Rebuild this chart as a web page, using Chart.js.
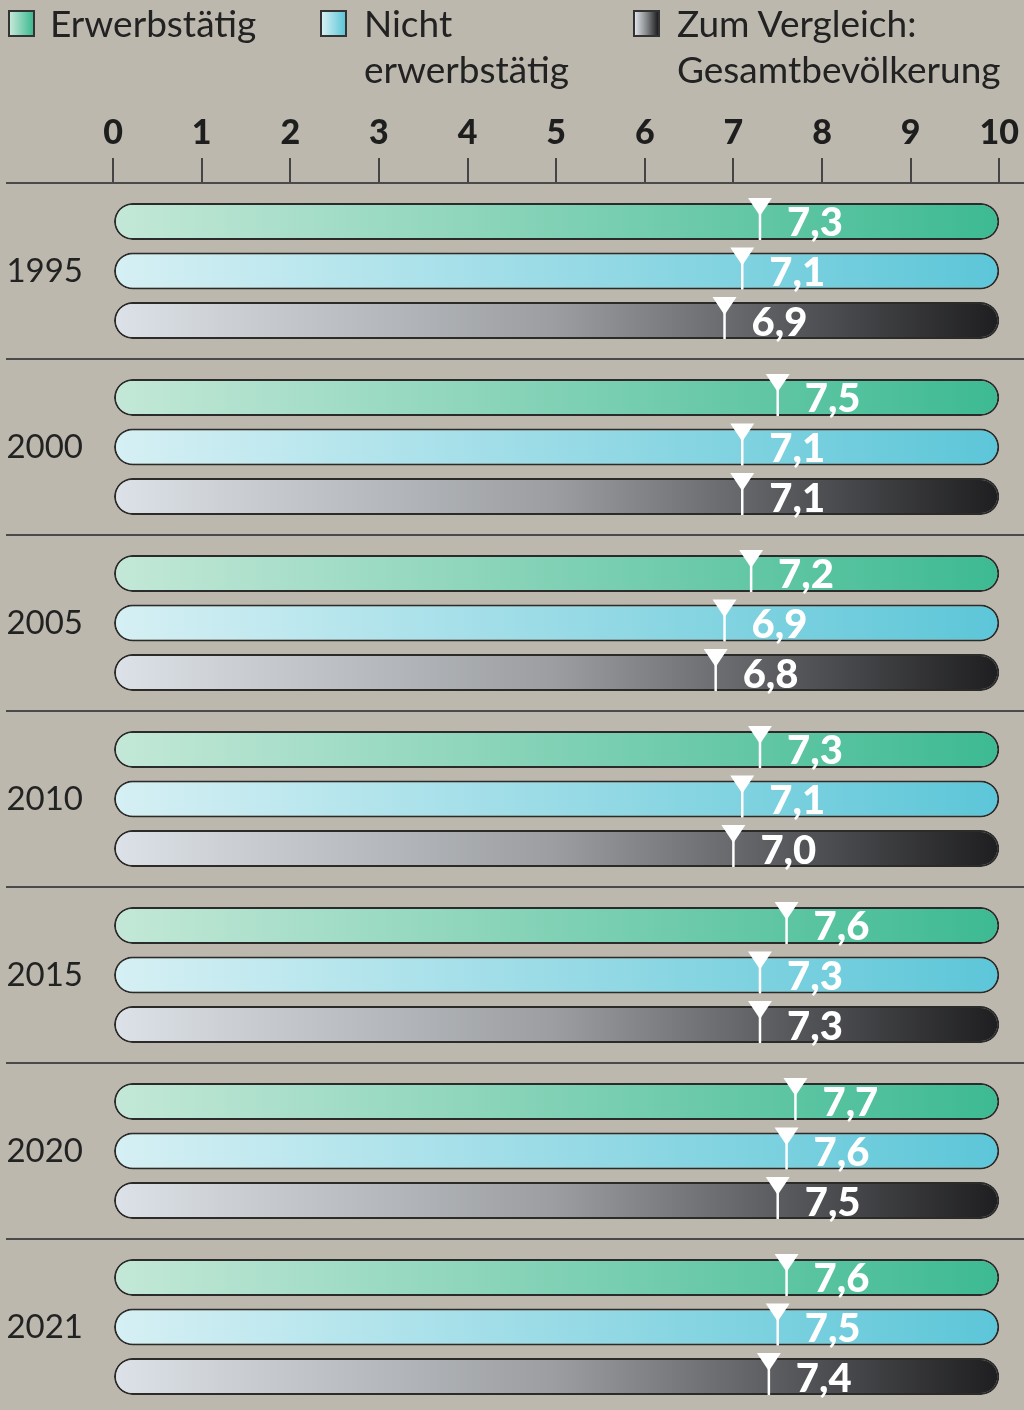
<!DOCTYPE html>
<html>
<head>
<meta charset="utf-8">
<script src="https://cdn.jsdelivr.net/npm/chart.js@4.4.0/dist/chart.umd.min.js"></script>
<style>
    html, body { margin: 0; padding: 0; background: #bcb8ae; overflow: hidden; }
    .wrap { position: relative; width: 1024px; height: 1415px; }
    #chart { position: absolute; left: 0; top: 0; }
    .legend-item { position: absolute; top: 0; font-family: Lato, sans-serif; font-size: 37px; line-height: 46px; color: #222; }
    .swatch { position: absolute; top: 10px; width: 23px; height: 23px; border: 2px solid #333; }
</style>
</head>
<body>
<div class="wrap">
    <canvas id="chart" width="1024" height="1415"></canvas>
    <div class="swatch" style="left:8px; background: linear-gradient(90deg, #c4e8d8, #3dba92);"></div>
    <div class="legend-item" style="left:50px;">Erwerbstätig</div>
    <div class="swatch" style="left:320px; background: linear-gradient(90deg, #d6f0f4, #5cc6d8);"></div>
    <div class="legend-item" style="left:364px;">Nicht<br>erwerbstätig</div>
    <div class="swatch" style="left:633px; background: linear-gradient(90deg, #dde2e8, #85888b, #1e1e20);"></div>
    <div class="legend-item" style="left:677px;">Zum Vergleich:<br>Gesamtbevölkerung</div>
</div>
<script>
const years = ['1995', '2000', '2005', '2010', '2015', '2020', '2021'];
const erwerbstaetig = [7.3, 7.5, 7.2, 7.3, 7.6, 7.7, 7.6];
const nichtErwerbstaetig = [7.1, 7.1, 6.9, 7.1, 7.3, 7.6, 7.5];
const gesamt = [6.9, 7.1, 6.8, 7.0, 7.3, 7.5, 7.4];
const scaleMin = 0;
const scaleMax = 10;

const seriesValues = [erwerbstaetig, nichtErwerbstaetig, gesamt];
const gradientStops = [
    [[0, '#c4e8d8'], [1, '#3dba92']],
    [[0, '#d6f0f4'], [1, '#5cc6d8']],
    [[0, '#dde2e8'], [0.5, '#9b9da0'], [0.8, '#4e4f52'], [1, '#1e1e20']]
];

const makeGradient = (stops) => (context) => {
    const {ctx, chartArea} = context.chart;
    if (!chartArea) {
        return stops[0][1];
    }
    const g = ctx.createLinearGradient(chartArea.left, 0, chartArea.right, 0);
    stops.forEach(([pos, col]) => g.addColorStop(pos, col));
    return g;
}

const fmt = (v) => v.toFixed(1).replace('.', ',');

// group separators + top axis line
const separatorPlugin = {
    id: 'separators',
    beforeDatasetsDraw(chart) {
        const {ctx, chartArea, scales: {y}} = chart;
        ctx.save();
        ctx.strokeStyle = '#4a4a4a';
        ctx.lineWidth = 2;
        const lines = [chartArea.top];
        for (let i = 0; i < years.length - 1; i++) {
            lines.push((y.getPixelForTick(i) + y.getPixelForTick(i + 1)) / 2);
        }
        lines.forEach((ly) => {
            ctx.beginPath();
            ctx.moveTo(6, Math.round(ly));
            ctx.lineTo(chart.width, Math.round(ly));
            ctx.stroke();
        });
        ctx.restore();
    }
};

// white marker with value label
const markerPlugin = {
    id: 'markers',
    afterDatasetsDraw(chart) {
        const {ctx, scales: {x}} = chart;
        ctx.save();
        ctx.fillStyle = '#fff';
        ctx.strokeStyle = '#fff';
        ctx.font = '900 40px Lato';
        ctx.textAlign = 'left';
        ctx.textBaseline = 'alphabetic';
        seriesValues.forEach((values, d) => {
            const meta = chart.getDatasetMeta(d);
            meta.data.forEach((bar, i) => {
                const px = x.getPixelForValue(values[i]);
                const top = bar.y - bar.height / 2;
                const bottom = bar.y + bar.height / 2;
                ctx.beginPath();
                ctx.moveTo(px - 12, top - 5);
                ctx.lineTo(px + 12, top - 5);
                ctx.lineTo(px, top + 13);
                ctx.closePath();
                ctx.fill();
                ctx.lineWidth = 2.5;
                ctx.beginPath();
                ctx.moveTo(px, top + 10);
                ctx.lineTo(px, bottom);
                ctx.stroke();
                ctx.fillText(fmt(values[i]), px + 27, bar.y + 15);
            });
        });
        ctx.restore();
    }
};

const datasets = seriesValues.map((values, d) => ({
    data: values.map(() => [scaleMin, scaleMax]),
    backgroundColor: makeGradient(gradientStops[d]),
    borderColor: '#2b2b2b',
    borderWidth: 2,
    borderRadius: 19,
    borderSkipped: false,
    categoryPercentage: 0.844,
    barPercentage: 0.747
}));

new Chart(document.querySelector('#chart'), {
    type: 'bar',
    data: {
        labels: years,
        datasets: datasets
    },
    options: {
        indexAxis: 'y',
        responsive: false,
        devicePixelRatio: 1,
        animation: false,
        layout: {
            padding: {left: 0, right: 15, top: 0, bottom: 0}
        },
        plugins: {
            legend: {display: false},
            tooltip: {enabled: false}
        },
        scales: {
            x: {
                position: 'top',
                min: scaleMin,
                max: scaleMax,
                afterFit: (scale) => { scale.height = 183; },
                border: {display: false},
                grid: {
                    drawOnChartArea: false,
                    drawTicks: true,
                    tickLength: 25,
                    color: '#444',
                    lineWidth: 2
                },
                ticks: {
                    stepSize: 1,
                    padding: 5,
                    color: '#1e1e1e',
                    font: {family: 'Lato', weight: '900', size: 34}
                }
            },
            y: {
                afterFit: (scale) => {
                    scale.width = 113;
                    scale.paddingTop = 0;
                    scale.paddingBottom = 0;
                },
                border: {display: false},
                grid: {display: false},
                ticks: {
                    padding: 22,
                    color: '#222',
                    font: {family: 'Lato', size: 33}
                }
            }
        }
    },
    plugins: [separatorPlugin, markerPlugin]
});
</script>
</body>
</html>
